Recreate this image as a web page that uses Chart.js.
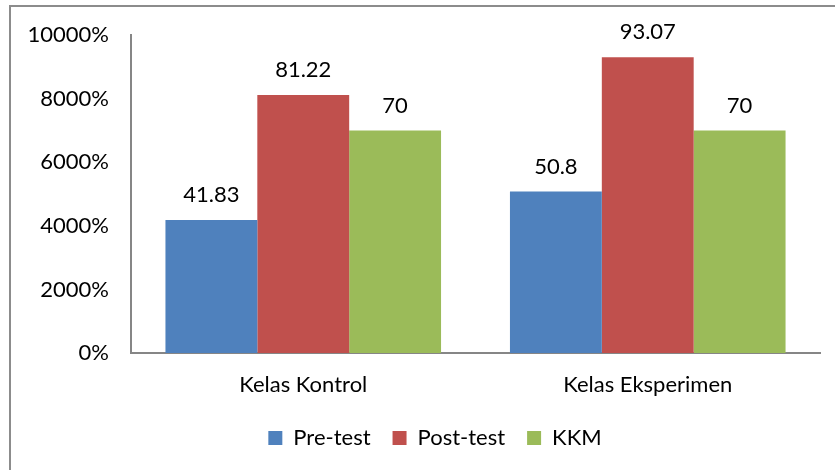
<!DOCTYPE html>
<html>
<head>
<meta charset="utf-8">
<script src="https://cdn.jsdelivr.net/npm/chart.js@4"></script>
<style>
  html, body { margin: 0; padding: 0; background: #fff; overflow: hidden; }
  #wrap { position: relative; width: 835px; height: 470px; }
  #frame { position: absolute; left: 9px; top: 5px; width: 900px; height: 600px; border: 2px solid #8c8c8c; }
  canvas { position: absolute; left: 0; top: 0; }
</style>
</head>
<body>
<div id="wrap">
  <div id="frame"></div>
  <canvas id="chart" width="835" height="470"></canvas>
</div>
<script>
const categories = ['Kelas Kontrol', 'Kelas Eksperimen']
const preTest = [41.83, 50.8]
const postTest = [81.22, 93.07]
const kkm = [70, 70]
const yTicks = [0, 20, 40, 60, 80, 100]

const fontFamily = 'Lato, "Open Sans", sans-serif'

// labels on top of each bar
const barLabels = {
    id: 'barLabels',
    afterDatasetsDraw(chart) {
        const ctx = chart.ctx
        ctx.save()
        ctx.font = '22px ' + fontFamily
        ctx.fillStyle = '#000'
        ctx.textAlign = 'center'
        ctx.textBaseline = 'middle'
        chart.data.datasets.forEach((ds, i) => {
            chart.getDatasetMeta(i).data.forEach((bar, j) => {
                ctx.fillText(String(ds.data[j]), bar.x, bar.y - 25)
            })
        })
        ctx.restore()
    }
}

// legend sits a bit right of the canvas centre
const shiftLegend = {
    id: 'shiftLegend',
    afterLayout(chart) {
        chart.legend.left += 25
        chart.legend.right += 25
    }
}

const ctx = document.querySelector('#chart')
const chart = new Chart(ctx, {
    type: 'bar',
    data: {
        labels: categories,
        datasets: [
            { label: 'Pre-test', data: preTest, backgroundColor: '#4f81bd' },
            { label: 'Post-test', data: postTest, backgroundColor: '#c0504d' },
            { label: 'KKM', data: kkm, backgroundColor: '#9bbb59' }
        ]
    },
    options: {
        responsive: false,
        animation: false,
        devicePixelRatio: 1,
        layout: { padding: { top: 34, right: 15, left: 0, bottom: 11 } },
        datasets: { bar: { categoryPercentage: 0.8, barPercentage: 1.0 } },
        scales: {
            x: {
                grid: { display: false, drawTicks: false },
                border: { color: '#868686', width: 2 },
                ticks: { color: '#000', font: { family: fontFamily, size: 22 }, padding: 19 },
                afterFit(scale) { scale.height = 52 }
            },
            y: {
                min: 0,
                max: 100,
                afterBuildTicks(scale) { scale.ticks = yTicks.map(v => ({ value: v })) },
                grid: { display: false, drawTicks: false },
                border: { color: '#868686', width: 2 },
                ticks: {
                    color: '#000',
                    font: { family: fontFamily, size: 22 },
                    padding: 22,
                    callback: v => (v * 100) + '%'
                },
                afterFit(scale) { scale.width = 131 }
            }
        },
        plugins: {
            legend: {
                position: 'bottom',
                labels: {
                    color: '#000',
                    font: { family: fontFamily, size: 22 },
                    boxWidth: 14,
                    boxHeight: 14,
                    padding: 22
                }
            },
            tooltip: { enabled: false }
        }
    },
    plugins: [barLabels, shiftLegend]
})
</script>
</body>
</html>
